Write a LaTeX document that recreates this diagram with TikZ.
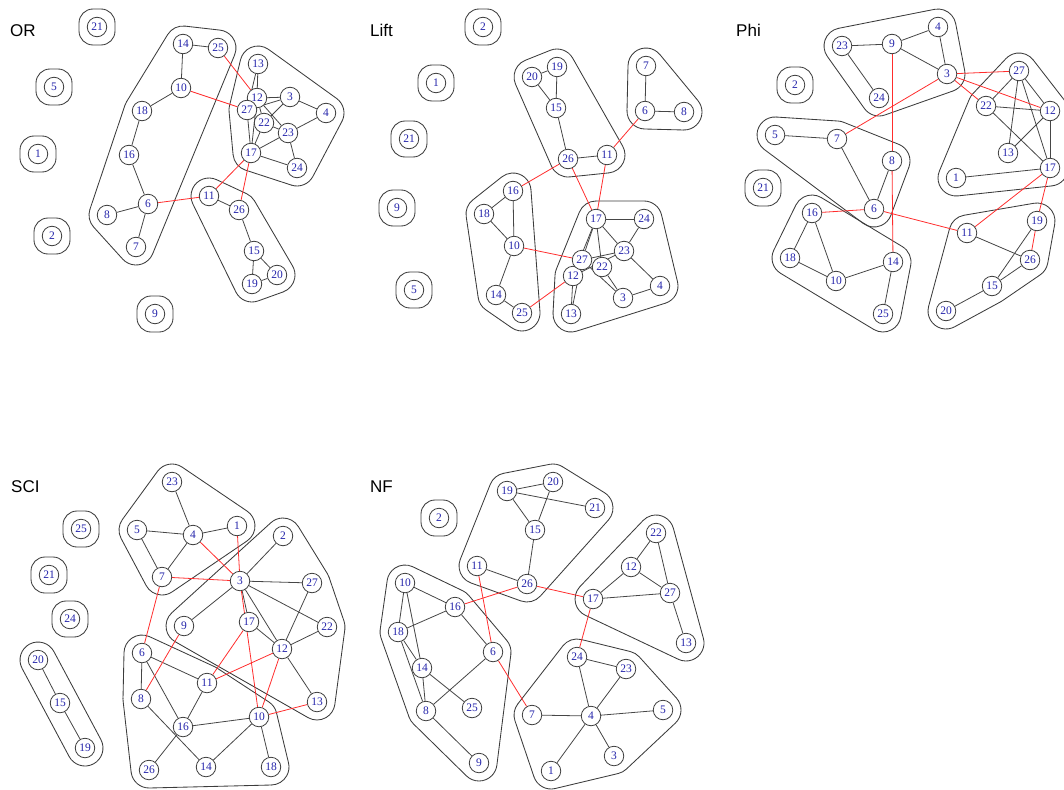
\documentclass[tikz,border=0pt]{standalone}
\usepackage{fontspec}
\setmainfont{Liberation Serif}
\newfontfamily\labfont{Liberation Sans}
\usetikzlibrary{calc}
\pgfdeclarelayer{background}
\pgfsetlayers{background,main}
\definecolor{edgec}{RGB}{70,70,70}
\definecolor{redc}{RGB}{255,45,45}
\definecolor{labc}{RGB}{35,35,170}
\definecolor{hullc}{RGB}{60,60,60}
\tikzset{
  vx/.style={circle,draw=hullc,fill=white,line width=0.8pt,minimum size=19.5pt,inner sep=0pt,
    font=\fontsize{11.5}{11.5}\selectfont,text=labc},
  ed/.style={draw=edgec,line width=0.8pt},
  re/.style={draw=redc,line width=0.8pt},
  hullline/.style={draw=hullc,line width=0.85pt,line cap=round},
  ttl/.style={font=\labfont\fontsize{17}{17}\selectfont,anchor=base west,inner sep=0pt}
}
\def\hexp{18pt}
\newcommand\hseg[3]{%
  \pgfmathanglebetweenpoints{\pgfpointanchor{#1}{center}}{\pgfpointanchor{#2}{center}}\let\aone\pgfmathresult
  \pgfmathanglebetweenpoints{\pgfpointanchor{#2}{center}}{\pgfpointanchor{#3}{center}}\let\atwo\pgfmathresult
  \pgfmathsetmacro\sa{\aone-90}%
  \pgfmathsetmacro\ea{\aone-90+mod(\atwo-\aone+720,360)}%
  \pgfmathsetmacro\na{\atwo-90}%
  \draw[hullline] ($(#2.center)+(\sa:\hexp)$) arc[start angle=\sa,end angle=\ea,radius=\hexp]
     -- ($(#3.center)+(\na:\hexp)$);%
}
\newcommand\hull[1]{%
  \foreach \v [count=\i] in {#1} {\expandafter\xdef\csname hv\i\endcsname{\v}\xdef\hn{\i}}%
  \foreach \i in {1,...,\hn}{%
    \pgfmathtruncatemacro\ia{mod(\i+\hn-2,\hn)+1}%
    \pgfmathtruncatemacro\ic{mod(\i,\hn)+1}%
    \edef\tmp{\noexpand\hseg{\csname hv\ia\endcsname}{\csname hv\i\endcsname}{\csname hv\ic\endcsname}}%
    \tmp}}
\newcommand\single[1]{\draw[hullline,rounded corners=14pt] ($(#1)+(-18pt,-18pt)$) rectangle ($(#1)+(18pt,18pt)$);}
\begin{document}
\begin{tikzpicture}
\useasboundingbox (0,0) rectangle (1064pt,-789pt);
\clip (0,0) rectangle (1064pt,-789pt);
% titles
\node[ttl] (tOR) at (10pt,-37pt) {OR};
\node[ttl] (tLift) at (370pt,-37pt) {Lift};
\node[ttl] (tPhi) at (736pt,-37pt) {Phi};
\node[ttl] (tSCI) at (11pt,-492pt) {SCI};
\node[ttl] (tNF) at (370pt,-492pt) {NF};
% OR
\foreach \n/\x/\y in {1/38/154,2/52/236,3/290/97,4/326/113,5/54/87,6/148/204,7/136/247,8/107/215,9/155/314,
  10/181/88,11/209/196,12/257/98,13/258/64,14/183/44,15/254/251,16/129/155,17/251/153,18/142/111,19/252/284,
  20/277/275,21/97/27,22/264/123,23/288/133,24/297/168,25/218/48,26/239/210,27/247/110}
  \node[vx] (a\n) at (\x pt,-\y pt) {\n};
% Lift
\foreach \n/\x/\y in {1/436/83,2/483/27,3/623/298,4/660/286,5/414/290,6/645/111,7/646/66,8/684/112,9/397/208,
  10/514/246,11/607/155,12/573/276,13/571/314,14/496/295,15/556/108,16/513/191,17/596/219,18/484/214,19/557/67,
  20/532/77,21/409/139,22/602/267,23/624/251,24/644/219,25/522/313,26/568/159,27/582/260}
  \node[vx] (b\n) at (\x pt,-\y pt) {\n};
% Phi
\foreach \n/\x/\y in {1/956/178,2/795/85,3/947/74,4/938/27,5/775/135,6/874/209,7/837/139,8/892/161,9/892/44,
  10/836/281,11/967/233,12/1050/111,13/1008/153,14/893/262,15/992/286,16/812/213,17/1050/168,18/790/258,19/1037/221,
  20/946/311,21/763/188,22/986/106,23/842/46,24/879/98,25/883/314,26/1030/260,27/1019/71}
  \node[vx] (c\n) at (\x pt,-\y pt) {\n};
% SCI
\foreach \n/\x/\y in {1/237/526,2/283/536,3/240/581,4/193/535,5/137/530,6/142/653,7/162/577,8/141/699,9/184/626,
  10/259/717,11/207/683,12/282/649,13/317/702,14/206/767,15/60/703,16/183/727,17/249/622,18/271/767,19/85/748,
  20/38/660,21/49/575,22/327/627,23/172/482,24/70/619,25/81/529,26/149/770,27/312/583}
  \node[vx] (d\n) at (\x pt,-\y pt) {\n};
% NF
\foreach \n/\x/\y in {1/551/771,2/439/518,3/614/756,4/591/716,5/663/710,6/493/652,7/532/715,8/426/711,9/479/763,
  10/405/583,11/477/566,12/631/567,13/686/643,14/422/668,15/535/530,16/455/607,17/593/599,18/398/632,19/507/491,
  20/553/482,21/595/508,22/656/533,23/626/669,24/577/657,25/472/708,26/527/584,27/670/593}
  \node[vx] (e\n) at (\x pt,-\y pt) {\n};

\begin{pgfonlayer}{background}
% ---- hulls
\hull{a14,a18,a8,a7,a25}
\hull{a13,a27,a17,a24,a4}
\hull{a11,a19,a20,a26}
\foreach \n in {21,5,1,2,9} {\single{a\n}}
\hull{b19,b20,b26,b11}
\hull{b7,b6,b8}
\hull{b16,b18,b14,b25}
\hull{b17,b12,b13,b4,b24}
\foreach \n in {2,1,21,9,5} {\single{b\n}}
\hull{c4,c23,c24,c3}
\hull{c7,c5,c6,c8}
\hull{c16,c18,c25,c14}
\hull{c27,c22,c1,c17,c12}
\hull{c19,c11,c20,c15,c26}
\foreach \n in {2,21} {\single{c\n}}
\hull{d23,d5,d7,d1}
\hull{d2,d9,d13,d22,d27}
\hull{d6,d8,d26,d18,d10,d11}
\hull{d20,d19}
\foreach \n in {25,21,24} {\single{d\n}}
\hull{e20,e19,e11,e26,e21}
\hull{e22,e17,e13}
\hull{e10,e18,e8,e9,e6,e16}
\hull{e24,e7,e1,e3,e5,e23}
\single{e2}
% ---- edges OR
\foreach \u/\v in {14/25,14/10,10/18,18/16,16/6,6/8,6/7,13/12,13/27,12/3,27/3,3/4,12/27,12/22,12/23,3/22,
  4/23,22/23,23/17,23/24,17/24,27/17,12/17,22/17,11/26,26/15,15/19,15/20,19/20}
  \draw[ed] (a\u) -- (a\v);
\foreach \u/\v in {25/12,10/27,6/11,17/11,17/26}
  \draw[re] (a\u) -- (a\v);
% ---- edges Lift
\foreach \u/\v in {20/19,20/15,19/15,15/26,26/11,7/6,6/8,16/18,16/10,18/10,10/14,14/25,17/24,17/27,17/12,
  17/22,17/23,24/23,23/4,4/3,27/23,12/23,22/3,27/3,12/13,27/13}
  \draw[ed] (b\u) -- (b\v);
\foreach \u/\v in {6/11,26/16,26/17,11/17,10/27,12/25}
  \draw[re] (b\u) -- (b\v);
% ---- edges Phi
\foreach \u/\v in {23/9,9/4,4/3,9/3,23/24,5/7,7/6,8/6,16/18,16/10,18/10,10/14,14/25,27/22,27/13,27/12,27/17,
  22/12,22/17,12/13,12/17,1/17,11/26,19/15,26/15,15/20}
  \draw[ed] (c\u) -- (c\v);
\foreach \u/\v in {3/27,3/22,3/12,3/7,9/8,8/14,16/6,6/11,17/11,17/19,19/26}
  \draw[re] (c\u) -- (c\v);
% ---- edges SCI
\foreach \u/\v in {23/4,5/4,4/1,5/7,4/7,2/3,3/27,3/9,3/22,3/12,3/17,17/12,27/12,22/12,12/13,6/8,6/11,6/16,
  11/16,8/14,16/10,16/26,10/14,10/18,20/15,15/19}
  \draw[ed] (d\u) -- (d\v);
\foreach \u/\v in {4/3,7/3,1/3,7/6,9/8,3/10,17/11,12/11,12/10,13/10}
  \draw[re] (d\u) -- (d\v);
% ---- edges NF
\foreach \u/\v in {19/20,19/21,19/15,20/15,15/26,11/26,22/12,22/27,12/17,12/27,17/27,27/13,10/16,10/18,10/14,
  18/16,18/14,18/8,14/8,16/6,14/25,6/8,8/9,24/23,24/4,23/4,7/4,4/5,4/3,4/1}
  \draw[ed] (e\u) -- (e\v);
\foreach \u/\v in {11/6,26/16,26/17,17/24,6/7}
  \draw[re] (e\u) -- (e\v);
\end{pgfonlayer}
\end{tikzpicture}
\end{document}
